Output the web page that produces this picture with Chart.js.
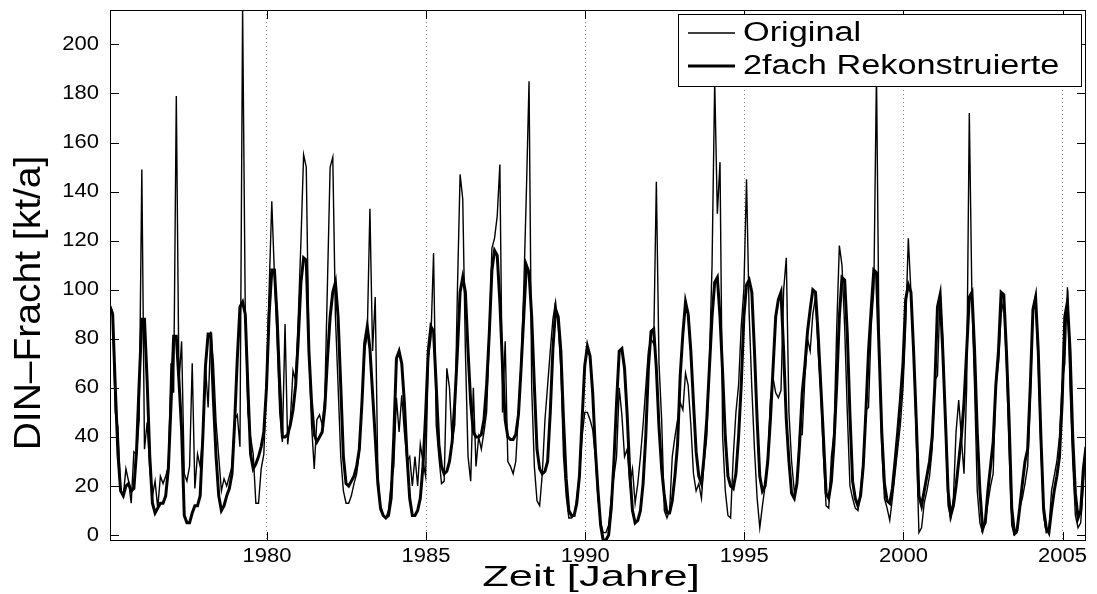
<!DOCTYPE html>
<html><head><meta charset="utf-8">
<script src="https://cdn.jsdelivr.net/npm/chart.js@4.4.0/dist/chart.umd.min.js"></script>
<style>html,body{margin:0;padding:0;background:#fff;overflow:hidden}canvas{display:block}</style>
</head><body>
<canvas id="c" width="1097" height="594"></canvas>
<script>
// ---- data (monthly values, first sample at startYear) ----
const startYear = 1975.07;
const monthsPerYear = 12;
const xTicks = [1980, 1985, 1990, 1995, 2000, 2005];
const yTicks = [0, 20, 40, 60, 80, 100, 120, 140, 160, 180, 200];
const seriesNames = ['Original', '2fach Rekonstruierte'];
const xTitle = 'Zeit [Jahre]';
const yTitle = 'DIN\u2013Fracht [kt/a]';

const original = [
  94, 91, 50, 44, 18, 16, 27, 22, 13, 34, 33, 47,        // 1975
  149, 35, 46, 27, 16, 22, 11, 24, 21, 24, 28, 70,       // 1976
  58, 179, 62, 79, 25, 22, 28, 70, 19, 33, 28, 41,       // 1977
  69, 52, 83, 70, 46, 32, 18, 23, 20, 24, 28, 47,        // 1978
  49, 36, 214, 92, 50, 40, 33, 13, 13, 27, 33, 62,       // 1979
  100, 136, 106, 80, 50, 38, 86, 37, 47, 67, 63, 89,     // 1980
  120, 155, 150, 75, 45, 27, 47, 49, 45, 56, 103, 150,   // 1981
  154, 89, 61, 32, 18, 13, 13, 16, 21, 25, 34, 54,       // 1982
  75, 82, 133, 75, 97, 25, 10, 8, 7, 10, 21, 28,         // 1983
  56, 42, 57, 42, 30, 32, 20, 32, 20, 37, 30, 24,        // 1984
  72, 80, 115, 45, 32, 21, 22, 68, 60, 38, 45, 100,      // 1985
  147, 137, 75, 32, 22, 60, 28, 40, 35, 42, 50, 80,      // 1986
  117, 121, 130, 151, 50, 79, 30, 28, 25, 30, 50, 70,    // 1987
  100, 140, 185, 60, 28, 14, 12, 25, 47, 61, 75, 88,     // 1988
  95, 85, 68, 32, 16, 7, 7, 8, 15, 25, 40, 50,           // 1989
  50, 47, 43, 32, 15, 5, 1, 1, 4, 15, 24, 32,            // 1990
  60, 49, 32, 35, 21, 27, 13, 21, 32, 45, 60, 75,        // 1991
  80, 78, 144, 70, 47, 10, 7, 10, 32, 40, 47, 54,        // 1992
  51, 66, 61, 45, 25, 18, 21, 15, 30, 40, 70, 110,       // 1993
  185, 131, 152, 40, 18, 8, 7, 32, 50, 61, 85, 100,      // 1994
  145, 90, 60, 35, 15, 3, 12, 20, 30, 55, 64, 58,        // 1995
  56, 59, 100, 113, 50, 30, 18, 20, 41, 41, 64, 80,      // 1996
  75, 90, 97, 75, 58, 32, 12, 11, 32, 42, 84, 118,       // 1997
  110, 85, 50, 20, 15, 11, 10, 18, 30, 51, 52, 85,       // 1998
  100, 189, 75, 35, 15, 11, 6, 15, 25, 35, 45, 60,       // 1999
  85, 121, 99, 75, 40, 1, 3, 13, 18, 24, 35, 63,         // 2000
  65, 99, 80, 45, 12, 7, 15, 42, 55, 40, 25, 60,         // 2001
  172, 96, 60, 18, 5, 1, 5, 13, 20, 25, 61, 70,          // 2002
  90, 96, 70, 35, 4, 0, 1, 11, 15, 21, 28, 55,           // 2003
  92, 95, 70, 35, 8, 1, 2, 18, 24, 30, 40, 62,           // 2004
  70, 101, 60, 30, 8, 3, 5, 20, 38                       // 2005
];

const reconstructed = [
  93, 90, 60, 33, 18, 16, 20, 21, 18, 19, 34, 62,        // 1975
  88, 88, 63, 32, 13, 9, 11, 13, 13, 16, 27, 53,         // 1976
  81, 81, 63, 43, 8, 5, 5, 9, 12, 12, 16, 40,            // 1977
  69, 82, 82, 55, 32, 16, 10, 12, 16, 19, 25, 46,        // 1978
  72, 93, 95, 90, 60, 33, 27, 29, 32, 36, 42, 60,        // 1979
  90, 108, 108, 89, 61, 40, 40, 41, 45, 51, 61, 80,      // 1980
  103, 113, 112, 75, 54, 41, 38, 40, 42, 52, 72, 89,     // 1981
  99, 103, 89, 61, 32, 21, 20, 22, 24, 28, 35, 54,       // 1982
  78, 85, 76, 58, 40, 21, 11, 8, 7, 8, 15, 40,           // 1983
  72, 75, 70, 54, 32, 15, 8, 8, 10, 15, 28, 49,          // 1984
  75, 85, 83, 61, 37, 28, 25, 26, 30, 38, 54, 75,        // 1985
  99, 105, 99, 75, 54, 42, 40, 40, 41, 47, 61, 82,       // 1986
  108, 116, 114, 95, 69, 47, 40, 39, 39, 41, 49, 68,     // 1987
  89, 110, 107, 89, 61, 35, 27, 25, 26, 30, 50, 76,      // 1988
  92, 89, 75, 47, 23, 10, 8, 8, 13, 24, 47, 69,          // 1989
  77, 73, 58, 35, 18, 4, -2.4, -2, 0, 11, 30, 54,        // 1990
  75, 76, 68, 49, 25, 10, 5, 6, 10, 21, 40, 68,          // 1991
  83, 84, 68, 44, 27, 16, 9, 9, 14, 24, 37, 65,          // 1992
  82, 95, 90, 75, 54, 34, 24, 21, 32, 47, 68, 89,        // 1993
  103, 105, 89, 66, 40, 24, 20, 19, 25, 40, 61, 89,      // 1994
  102, 104, 99, 75, 47, 24, 18, 20, 30, 47, 68, 89,      // 1995
  96, 99, 75, 47, 30, 17, 15, 21, 37, 58, 69, 83,        // 1996
  92, 100, 99, 82, 61, 40, 17, 15, 22, 38, 61, 89,       // 1997
  105, 104, 82, 49, 22, 15, 12, 16, 28, 50, 75, 92,      // 1998
  108, 107, 75, 42, 21, 14, 13, 19, 30, 42, 55, 70,      // 1999
  96, 102, 99, 75, 47, 16, 12, 18, 24, 30, 40, 61,       // 2000
  93, 98, 75, 47, 18, 8, 12, 20, 30, 40, 54, 75,         // 2001
  97, 99, 75, 42, 18, 3, 5, 18, 28, 38, 61, 75,          // 2002
  99, 98, 75, 47, 11, 1, 2, 11, 21, 30, 35, 61,          // 2003
  92, 97, 75, 40, 11, 3, 1, 10, 18, 24, 32, 54,          // 2004
  89, 95, 75, 40, 17, 7, 10, 27, 36                      // 2005
];

// ---- helpers ----
const toPoints = arr => arr.map((v, i) => ({ x: startYear + i / monthsPerYear, y: v }));
const allVals = original.concat(reconstructed);
const yMin = Math.min(...allVals), yMax = Math.max(...allVals);
const xMin = startYear, xMax = startYear + (Math.max(original.length, reconstructed.length) - 1) / monthsPerYear;

const FONT = '"Liberation Sans", Arial, Helvetica, sans-serif';
function text(ctx, s, x, y, size, sx, align, baseline, rot) {
  ctx.save();
  ctx.translate(x, y);
  ctx.scale(sx, 1);
  if (rot) ctx.rotate(rot);
  ctx.font = size + 'px ' + FONT;
  ctx.textAlign = align; ctx.textBaseline = baseline;
  ctx.fillStyle = '#000';
  ctx.fillText(s, 0, 0);
  ctx.restore();
}

const overlay = {
  id: 'overlay',
  afterDraw(chart) {
    const { ctx, chartArea: a } = chart;
    const xs = chart.scales.x, ys = chart.scales.y;
    ctx.save();
    ctx.strokeStyle = '#000'; ctx.lineWidth = 1;
    ctx.strokeRect(a.left + 0.5, a.top + 0.5, a.right - a.left - 1, a.bottom - a.top - 1);
    ctx.beginPath();
    yTicks.forEach(v => {
      const p = Math.round(ys.getPixelForValue(v)) + 0.5;
      ctx.moveTo(a.left, p); ctx.lineTo(a.left + 9, p);
      ctx.moveTo(a.right, p); ctx.lineTo(a.right - 9, p);
    });
    xTicks.forEach(v => {
      const p = Math.round(xs.getPixelForValue(v)) + 0.5;
      ctx.moveTo(p, a.bottom); ctx.lineTo(p, a.bottom - 9);
      ctx.moveTo(p, a.top); ctx.lineTo(p, a.top + 9);
    });
    ctx.stroke();
    yTicks.forEach(v => text(ctx, String(v), a.left - 11, ys.getPixelForValue(v), 20, 1.1, 'right', 'middle'));
    xTicks.forEach(v => text(ctx, String(v), xs.getPixelForValue(v), a.bottom + 15, 20, 1.1, 'center', 'middle'));
    text(ctx, xTitle, 591, a.bottom + 37, 30, 1.45, 'center', 'middle');
    text(ctx, yTitle, 30, 303, 39, 0.95, 'center', 'middle', -Math.PI / 2);

    // legend
    const L = { x: 678, y: 14, w: 403, h: 72 };
    ctx.fillStyle = '#fff';
    ctx.fillRect(L.x, L.y, L.w, L.h);
    ctx.strokeStyle = '#000'; ctx.lineWidth = 1;
    ctx.strokeRect(L.x + 0.5, L.y + 0.5, L.w, L.h);
    const rows = [{ y: 33, w: 1.4 }, { y: 66, w: 3 }];
    rows.forEach((r, k) => {
      ctx.beginPath(); ctx.lineWidth = r.w; ctx.strokeStyle = '#000';
      ctx.moveTo(688, r.y); ctx.lineTo(735, r.y); ctx.stroke();
      text(ctx, seriesNames[k], 743, r.y + 1, 27, 1.27, 'left', 'middle');
    });
    ctx.restore();
  }
};

new Chart(document.getElementById('c'), {
  type: 'line',
  data: {
    datasets: [
      { label: seriesNames[0], data: toPoints(original), borderColor: '#000', borderWidth: 1.4, pointRadius: 0, tension: 0, fill: false },
      { label: seriesNames[1], data: toPoints(reconstructed), borderColor: '#000', borderWidth: 3, pointRadius: 0, tension: 0, fill: false }
    ]
  },
  options: {
    responsive: false,
    animation: false,
    devicePixelRatio: 1,
    layout: { padding: { left: 0, right: 11, top: 10, bottom: 0 } },
    plugins: { legend: { display: false }, tooltip: { enabled: false } },
    scales: {
      x: {
        type: 'linear', min: xMin, max: xMax,
        afterBuildTicks: s => { s.ticks = xTicks.map(v => ({ value: v })); },
        afterFit: s => { s.height = 53; },
        ticks: { display: false },
        grid: { display: true, drawTicks: false, color: '#8a8a8a', lineWidth: 1 },
        border: { display: false, dash: [1, 3] }
      },
      y: {
        type: 'linear', min: yMin, max: yMax,
        afterBuildTicks: s => { s.ticks = yTicks.map(v => ({ value: v })); },
        afterFit: s => { s.width = 110; },
        ticks: { display: false },
        grid: { display: false },
        border: { display: false }
      }
    }
  },
  plugins: [overlay]
});
</script>
</body></html>
